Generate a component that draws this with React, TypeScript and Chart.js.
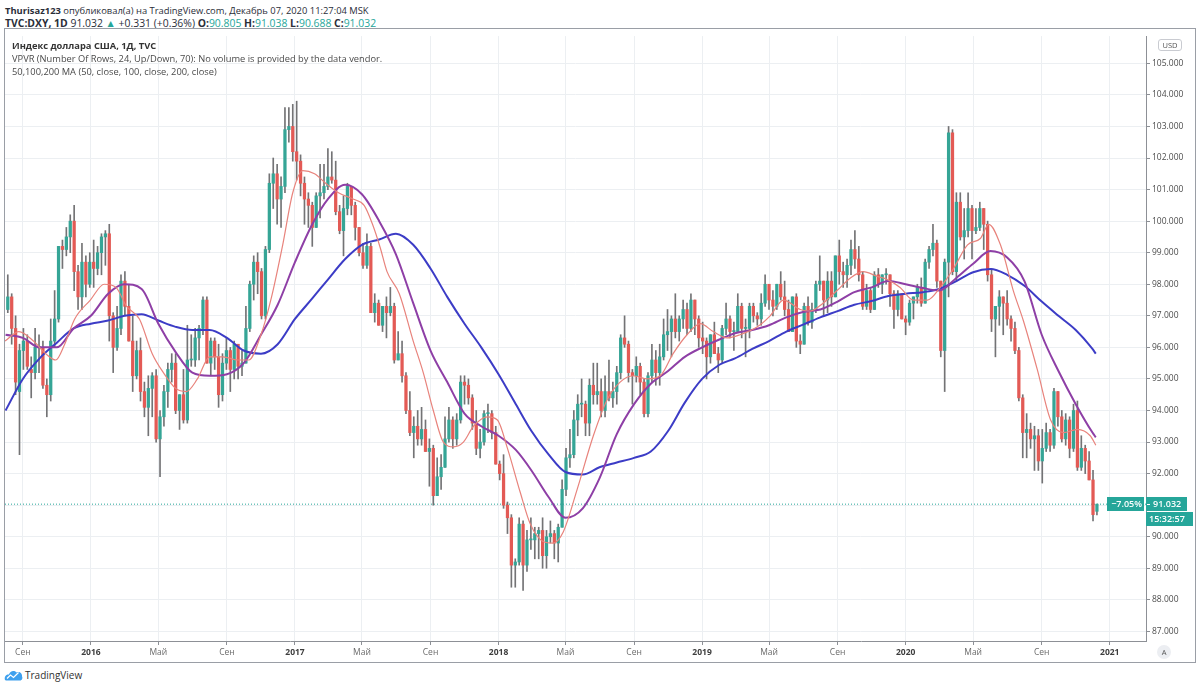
import React, { useEffect, useRef } from "react";
import { Chart, registerables } from "chart.js";

Chart.register(...registerables);

const toDay = (iso: string) =>
  (Date.parse(iso + "T00:00:00Z") - Date.UTC(2015, 0, 1)) / 86400000;

// Weekly candles [open, high, low, close]; first week starts Monday 2015-08-03
const FIRST_WEEK = "2015-08-03";

const ohlc2015 = [
  [97.2, 98.3, 97.1, 97.6], [97.6, 97.7, 96.1, 96.6], [96.6, 97.0, 94.5, 94.9], [94.6, 96.1, 92.6, 95.9],
  [95.9, 96.6, 95.3, 96.2], [96.2, 96.4, 95.3, 95.4], [95.3, 95.7, 94.4, 95.2], [95.2, 96.6, 95.0, 96.0],
  [96.0, 96.4, 95.2, 96.0], [96.0, 96.2, 94.7, 94.8], [94.8, 95.0, 93.8, 94.5], [94.5, 96.9, 94.3, 96.2],
  [96.2, 97.8, 96.0, 96.9], [96.9, 99.2, 96.8, 99.2], [99.2, 99.4, 98.5, 99.1], [99.1, 99.8, 98.9, 99.5],
  [99.5, 100.2, 99.0, 100.0], [100.0, 100.5, 97.8, 98.4], [98.4, 98.6, 97.2, 97.6], [97.6, 99.3, 97.2, 98.7],
  [98.7, 98.9, 97.6, 98.0], [98.0, 99.0, 97.9, 98.7],
];
const ohlc2016 = [
  [98.7, 99.4, 97.9, 98.5], [98.5, 99.2, 98.3, 99.0], [99.0, 99.6, 98.3, 99.5], [99.5, 99.7, 98.6, 99.6],
  [99.6, 99.9, 96.2, 97.0], [97.0, 97.1, 95.2, 96.0], [96.0, 97.3, 95.9, 96.6], [96.6, 98.3, 96.4, 98.1],
  [98.1, 98.4, 97.0, 97.3], [97.3, 98.0, 96.2, 96.2], [96.2, 97.0, 94.6, 95.1], [95.1, 96.2, 95.0, 95.9],
  [95.9, 96.3, 94.3, 94.6], [94.6, 94.9, 93.8, 94.1], [94.1, 95.1, 93.2, 94.7], [94.7, 95.2, 93.8, 95.1],
  [95.1, 95.3, 93.0, 93.1], [93.1, 94.0, 91.9, 93.8], [93.8, 94.8, 93.5, 94.6], [94.6, 95.5, 94.1, 95.3],
  [95.3, 95.8, 94.9, 95.5], [95.5, 95.8, 93.9, 94.0], [94.0, 94.5, 93.4, 94.5], [94.5, 95.3, 93.6, 93.7],
  [93.7, 96.7, 93.6, 95.6], [95.6, 96.4, 95.4, 95.6], [95.6, 96.6, 95.4, 96.3], [96.3, 96.7, 95.6, 96.6],
  [96.6, 97.6, 96.4, 97.5], [97.5, 97.6, 95.5, 95.5], [95.5, 96.3, 95.1, 96.2], [96.2, 96.3, 95.3, 95.7],
  [95.7, 96.1, 94.1, 94.5], [94.5, 95.8, 94.3, 95.5], [95.5, 96.3, 95.3, 95.9], [95.9, 96.0, 94.6, 95.3],
  [95.3, 96.2, 95.0, 96.1], [96.1, 96.1, 95.0, 95.4], [95.4, 95.9, 95.1, 95.5], [95.5, 97.3, 95.5, 96.6],
  [96.6, 98.1, 96.5, 98.0], [98.0, 98.9, 97.5, 98.7], [98.7, 99.0, 97.7, 98.4], [98.4, 98.5, 96.9, 97.0],
  [97.0, 99.2, 96.9, 99.1], [99.1, 101.5, 99.0, 101.2], [101.2, 102.0, 100.4, 101.5], [101.5, 101.8, 99.9, 100.7],
  [100.7, 101.4, 99.8, 101.1], [101.1, 103.6, 100.9, 102.9], [102.9, 103.6, 102.5, 103.0], [103.0, 103.7, 101.9, 102.2],
];
const ohlc2017 = [
  [102.2, 103.8, 101.3, 101.9], [101.9, 102.1, 100.8, 101.2], [101.2, 101.4, 99.9, 100.7], [100.7, 100.9, 99.8, 100.5],
  [100.5, 100.6, 99.2, 99.8], [99.8, 100.9, 99.8, 100.8], [100.8, 101.8, 100.1, 100.9], [100.9, 101.8, 100.7, 101.1],
  [101.1, 102.3, 101.0, 101.4], [101.4, 102.2, 101.2, 101.3], [101.3, 101.9, 100.2, 100.3], [100.3, 100.5, 99.6, 99.7],
  [99.7, 100.8, 98.9, 100.4], [100.4, 101.2, 100.2, 101.1], [101.1, 101.1, 100.2, 100.5], [100.5, 100.6, 99.4, 99.8],
  [99.8, 99.8, 98.9, 99.0], [99.0, 99.3, 98.5, 98.6], [98.6, 99.6, 98.5, 99.2], [99.2, 99.3, 97.1, 97.1],
  [97.1, 97.7, 96.8, 97.4], [97.4, 97.5, 96.7, 96.7], [96.7, 97.3, 96.5, 97.3], [97.3, 97.6, 96.3, 97.1],
  [97.1, 97.9, 97.0, 97.3], [97.3, 97.4, 95.5, 95.6], [95.6, 96.5, 95.6, 95.8], [95.8, 96.2, 94.9, 95.1],
  [95.1, 95.2, 93.9, 94.0], [94.0, 94.6, 93.2, 93.3], [93.3, 93.8, 92.5, 93.5], [93.5, 94.0, 92.9, 93.1],
  [93.1, 94.1, 92.9, 93.4], [93.4, 93.7, 92.7, 92.7], [92.7, 93.1, 91.6, 92.8], [92.8, 92.9, 91.0, 91.3],
  [91.3, 92.5, 91.3, 91.9], [91.9, 92.6, 91.5, 92.2], [92.2, 93.8, 92.2, 93.1], [93.1, 94.1, 93.0, 93.7],
  [93.7, 93.8, 92.8, 93.1], [93.1, 93.9, 92.9, 93.7], [93.7, 95.1, 93.6, 94.9], [94.9, 95.1, 94.2, 94.8],
  [94.8, 95.0, 94.2, 94.4], [94.4, 94.5, 93.4, 93.6], [93.6, 94.0, 92.6, 92.8], [92.8, 93.4, 92.5, 93.0],
  [93.0, 94.0, 92.9, 93.9], [93.9, 94.2, 93.3, 93.9], [93.9, 94.0, 93.1, 93.3], [93.3, 93.5, 92.3, 92.3],
];
const ohlc2018 = [
  [92.3, 92.4, 91.8, 92.0], [92.0, 92.6, 90.9, 91.0], [91.0, 91.1, 90.1, 90.6], [90.6, 90.7, 88.4, 89.1],
  [89.1, 89.3, 88.4, 89.2], [89.2, 90.6, 89.1, 90.4], [90.4, 90.5, 88.3, 89.1], [89.1, 90.2, 88.9, 89.9],
  [89.9, 90.6, 89.6, 89.9], [89.9, 90.3, 89.3, 90.1], [90.1, 90.3, 89.3, 90.2], [90.2, 90.6, 89.0, 89.4],
  [89.4, 90.2, 89.0, 90.0], [90.0, 90.5, 89.8, 90.1], [90.1, 90.2, 89.3, 89.8], [89.8, 90.4, 89.2, 90.3],
  [90.3, 91.8, 90.3, 91.5], [91.5, 92.8, 91.3, 92.5], [92.5, 93.4, 92.2, 92.6], [92.6, 94.0, 92.5, 93.7],
  [93.7, 94.5, 93.2, 94.2], [94.2, 95.0, 93.8, 94.2], [94.2, 94.3, 93.2, 93.6], [93.6, 95.0, 93.2, 94.8],
  [94.8, 95.5, 94.2, 94.5], [94.5, 95.5, 94.2, 94.6], [94.6, 95.0, 93.8, 94.0], [94.0, 95.1, 93.8, 94.6],
  [94.6, 95.6, 94.3, 94.4], [94.4, 94.9, 94.1, 94.6], [94.6, 95.4, 94.2, 95.2], [95.2, 96.4, 95.0, 96.3],
  [96.3, 97.0, 96.0, 96.1], [96.1, 96.2, 94.9, 95.2], [95.2, 95.3, 94.2, 95.1], [95.1, 95.7, 94.9, 95.4],
  [95.4, 95.5, 94.5, 94.9], [94.9, 95.0, 93.8, 93.9], [93.9, 95.2, 93.8, 95.1], [95.1, 96.1, 94.9, 95.6],
  [95.6, 95.9, 94.8, 95.2], [95.2, 96.1, 94.8, 95.7], [95.7, 96.9, 95.6, 96.4], [96.4, 97.2, 95.9, 96.5],
  [96.5, 97.0, 95.7, 96.9], [96.9, 97.7, 96.3, 96.5], [96.5, 97.0, 96.2, 96.9], [96.9, 97.5, 96.6, 97.2],
  [97.2, 97.4, 96.4, 96.6], [96.6, 97.7, 96.5, 97.5], [97.5, 97.5, 96.4, 96.9], [96.9, 97.0, 96.0, 96.3],
  [96.3, 96.8, 95.8, 96.2],
];
const ohlc2019 = [
  [96.2, 96.3, 95.0, 95.7], [95.7, 96.4, 95.5, 96.4], [96.4, 96.8, 95.8, 95.8], [95.8, 96.0, 95.2, 95.6],
  [95.6, 96.7, 95.5, 96.6], [96.6, 97.4, 96.4, 96.9], [96.9, 97.0, 96.3, 96.5], [96.5, 96.8, 95.9, 96.5],
  [96.5, 97.7, 96.5, 97.3], [97.3, 97.4, 96.3, 96.6], [96.6, 96.9, 95.7, 96.6], [96.6, 97.4, 96.3, 97.3],
  [97.3, 97.4, 96.8, 97.0], [97.0, 97.1, 96.7, 96.9], [96.9, 97.7, 96.7, 97.4], [97.4, 98.3, 97.3, 98.0],
  [98.0, 98.0, 97.2, 97.5], [97.5, 97.8, 97.0, 97.3], [97.3, 98.0, 97.2, 98.0], [98.0, 98.4, 97.5, 97.6],
  [97.6, 98.1, 97.0, 97.2], [97.2, 97.5, 96.5, 96.5], [96.5, 97.6, 96.5, 97.6], [97.6, 97.7, 96.0, 96.2],
  [96.2, 96.4, 95.8, 96.1], [96.1, 97.4, 96.1, 97.3], [97.3, 97.6, 96.7, 96.8], [96.8, 97.4, 96.6, 97.2],
  [97.2, 98.1, 97.1, 98.0], [98.0, 98.9, 97.8, 98.1], [98.1, 98.1, 97.0, 97.5], [97.5, 98.4, 97.1, 98.1],
  [98.1, 98.4, 97.3, 97.6], [97.6, 98.9, 97.6, 98.9], [98.9, 99.4, 98.0, 98.4], [98.4, 98.7, 97.9, 98.3],
  [98.3, 98.8, 97.9, 98.6], [98.6, 99.4, 98.3, 99.1], [99.1, 99.7, 98.5, 98.8], [98.8, 99.2, 98.1, 98.3],
  [98.3, 98.4, 97.2, 97.3], [97.3, 98.0, 97.2, 97.8], [97.8, 97.9, 97.1, 97.2], [97.2, 98.4, 97.2, 98.3],
  [98.3, 98.5, 97.9, 98.0], [98.0, 98.3, 97.7, 98.3], [98.3, 98.5, 98.0, 98.3], [98.3, 98.3, 97.3, 97.7],
  [97.7, 97.8, 96.6, 97.2], [97.2, 97.8, 97.0, 97.7], [97.7, 97.7, 96.9, 96.9], [96.9, 97.0, 96.4, 96.8],
];
const ohlc2020 = [
  [96.8, 97.5, 96.7, 97.4], [97.4, 97.6, 96.9, 97.6], [97.6, 98.0, 97.4, 97.9], [97.9, 98.2, 97.3, 97.4],
  [97.4, 98.8, 97.4, 98.7], [98.7, 99.2, 98.5, 99.1], [99.1, 99.9, 98.9, 99.3], [99.3, 99.4, 97.9, 98.1],
  [98.1, 98.1, 95.7, 95.9], [95.9, 98.8, 94.6, 98.7], [98.7, 103.0, 97.6, 102.8], [102.8, 102.9, 98.3, 98.4],
  [98.4, 100.9, 98.1, 100.6], [100.6, 100.9, 99.4, 99.5], [99.5, 100.4, 98.8, 99.7], [99.7, 100.9, 99.5, 100.4],
  [100.4, 100.5, 98.8, 99.7], [99.7, 100.4, 99.6, 99.8], [99.8, 100.6, 99.7, 100.4], [100.4, 100.4, 99.1, 99.9],
  [99.9, 100.0, 98.1, 98.3], [98.3, 98.5, 96.5, 96.9], [96.9, 97.0, 95.7, 97.3], [97.3, 97.8, 96.7, 97.6],
  [97.6, 97.6, 96.4, 97.4], [97.4, 97.8, 96.7, 96.9], [96.9, 97.0, 96.2, 96.6], [96.6, 96.8, 95.8, 95.9],
  [95.9, 96.0, 94.3, 94.4], [94.4, 94.5, 92.5, 93.3], [93.3, 93.9, 92.5, 93.4], [93.4, 93.6, 92.8, 93.1],
  [93.1, 93.5, 92.1, 93.2], [93.2, 93.4, 92.1, 92.4], [92.4, 93.4, 91.7, 92.8], [92.8, 93.6, 92.7, 93.3],
  [93.3, 93.4, 92.7, 92.9], [92.9, 94.7, 92.8, 94.6], [94.6, 94.6, 93.5, 93.8], [93.8, 94.0, 93.0, 93.1],
  [93.1, 93.9, 92.9, 93.7], [93.7, 93.8, 92.5, 92.8], [92.8, 94.2, 92.7, 94.0], [94.0, 94.3, 92.1, 92.2],
  [92.2, 93.2, 92.1, 92.8], [92.8, 92.9, 92.0, 92.4], [92.4, 92.7, 91.8, 91.8], [91.8, 92.1, 90.5, 90.7],
  [90.805, 91.038, 90.688, 91.032],
];

// Moving averages [date, value]
const ma50: [string, number][] = [
  ["2015-07-31", 96.2], ["2015-08-25", 96.5], ["2015-09-20", 96.2], ["2015-10-12", 95.8], ["2015-10-30", 95.6],
  ["2015-11-15", 96.1], ["2015-12-03", 96.9], ["2015-12-31", 97.5], ["2016-01-25", 98.0], ["2016-02-15", 97.9],
  ["2016-03-05", 97.3], ["2016-03-28", 96.9], ["2016-04-20", 95.8], ["2016-05-10", 95.2], ["2016-06-01", 94.7],
  ["2016-06-20", 94.6], ["2016-07-10", 95.0], ["2016-08-01", 95.7], ["2016-08-25", 95.7], ["2016-09-20", 95.6],
  ["2016-10-10", 95.6], ["2016-11-01", 96.4], ["2016-11-20", 97.6], ["2016-12-10", 99.25], ["2016-12-28", 100.9],
  ["2017-01-15", 101.6], ["2017-02-05", 101.5], ["2017-02-25", 101.2], ["2017-03-20", 100.9], ["2017-04-15", 100.7],
  ["2017-05-05", 100.5], ["2017-05-20", 99.9], ["2017-06-03", 99.15], ["2017-06-15", 98.4], ["2017-07-07", 97.7],
  ["2017-08-01", 96.2], ["2017-08-19", 95.2], ["2017-09-06", 94.0], ["2017-09-24", 93.0], ["2017-10-12", 92.85],
  ["2017-10-30", 93.0], ["2017-11-17", 93.5], ["2017-12-12", 93.8], ["2017-12-30", 93.7], ["2018-01-17", 92.8],
  ["2018-02-09", 91.4], ["2018-02-27", 90.4], ["2018-03-22", 89.85], ["2018-04-09", 89.8], ["2018-04-27", 90.15],
  ["2018-05-22", 91.5], ["2018-06-20", 93.2], ["2018-07-15", 94.35], ["2018-08-07", 94.9], ["2018-08-31", 95.1],
  ["2018-09-25", 95.0], ["2018-10-18", 95.1], ["2018-11-10", 95.8], ["2018-12-05", 96.4], ["2018-12-29", 96.75],
  ["2019-01-21", 96.5], ["2019-02-15", 96.3], ["2019-03-10", 96.4], ["2019-04-10", 96.65], ["2019-05-03", 97.0],
  ["2019-05-27", 97.5], ["2019-06-26", 97.2], ["2019-07-14", 97.15], ["2019-08-06", 97.4], ["2019-08-31", 97.8],
  ["2019-09-24", 98.2], ["2019-10-17", 98.4], ["2019-11-11", 98.25], ["2019-11-29", 98.15], ["2019-12-22", 97.9],
  ["2020-01-15", 97.5], ["2020-02-09", 97.5], ["2020-03-03", 97.9], ["2020-03-27", 98.5], ["2020-04-21", 99.25],
  ["2020-05-14", 99.45], ["2020-05-29", 99.9], ["2020-06-19", 99.25], ["2020-07-12", 97.8], ["2020-07-30", 96.85],
  ["2020-08-24", 95.3], ["2020-09-17", 93.7], ["2020-10-10", 93.3], ["2020-11-04", 93.4], ["2020-11-27", 93.2],
  ["2020-12-07", 92.9],
];
const ma100: [string, number][] = [
  ["2015-08-01", 96.4], ["2015-09-01", 96.3], ["2015-10-01", 96.0], ["2015-11-01", 96.0], ["2015-12-01", 96.6],
  ["2016-01-01", 97.0], ["2016-02-01", 97.7], ["2016-03-01", 98.0], ["2016-04-01", 97.85], ["2016-05-01", 96.75],
  ["2016-06-01", 95.85], ["2016-07-01", 95.2], ["2016-08-01", 95.1], ["2016-09-01", 95.15], ["2016-10-01", 95.5],
  ["2016-11-01", 96.4], ["2016-12-01", 97.35], ["2017-01-01", 98.7], ["2017-02-01", 99.9], ["2017-03-01", 100.7],
  ["2017-04-01", 101.15], ["2017-05-01", 100.85], ["2017-06-01", 100.0], ["2017-07-01", 98.95], ["2017-08-01", 97.4],
  ["2017-09-01", 95.9], ["2017-10-01", 94.9], ["2017-11-01", 93.9], ["2017-12-01", 93.5], ["2018-01-01", 93.2],
  ["2018-02-01", 92.75], ["2018-03-01", 92.1], ["2018-04-01", 91.25], ["2018-05-01", 90.6], ["2018-06-01", 90.9],
  ["2018-07-01", 91.85], ["2018-08-01", 93.25], ["2018-09-01", 94.2], ["2018-10-01", 94.85], ["2018-11-01", 95.25],
  ["2018-12-01", 95.7], ["2019-01-01", 96.0], ["2019-02-01", 96.25], ["2019-03-01", 96.45], ["2019-04-01", 96.55],
  ["2019-05-01", 96.7], ["2019-06-01", 96.95], ["2019-07-01", 97.12], ["2019-08-01", 97.2], ["2019-09-01", 97.45],
  ["2019-10-01", 97.75], ["2019-11-01", 97.9], ["2019-12-01", 98.1], ["2020-01-01", 98.0], ["2020-02-01", 97.88],
  ["2020-03-01", 97.8], ["2020-04-01", 98.2], ["2020-05-01", 98.65], ["2020-06-01", 99.05], ["2020-07-01", 98.85],
  ["2020-08-01", 98.1], ["2020-09-01", 96.4], ["2020-10-01", 95.25], ["2020-11-01", 94.2], ["2020-12-01", 93.3],
  ["2020-12-07", 93.15],
];
const ma200: [string, number][] = [
  ["2015-08-01", 94.0], ["2015-09-01", 95.0], ["2015-10-01", 95.65], ["2015-11-01", 96.15], ["2015-12-01", 96.6],
  ["2016-01-01", 96.75], ["2016-02-01", 96.85], ["2016-03-01", 97.0], ["2016-04-01", 97.05], ["2016-05-01", 96.85],
  ["2016-06-01", 96.65], ["2016-07-01", 96.55], ["2016-08-01", 96.55], ["2016-09-01", 96.3], ["2016-10-01", 95.9],
  ["2016-11-01", 95.8], ["2016-12-01", 96.1], ["2017-01-01", 96.9], ["2017-02-01", 97.55], ["2017-03-01", 98.15],
  ["2017-04-01", 98.8], ["2017-05-01", 99.25], ["2017-06-01", 99.42], ["2017-07-01", 99.6], ["2017-08-01", 99.25],
  ["2017-09-01", 98.5], ["2017-10-01", 97.6], ["2017-11-01", 96.75], ["2017-12-01", 96.0], ["2018-01-01", 95.15],
  ["2018-02-01", 94.2], ["2018-03-01", 93.35], ["2018-04-01", 92.6], ["2018-05-01", 92.05], ["2018-06-01", 91.97],
  ["2018-07-01", 92.2], ["2018-08-01", 92.35], ["2018-09-01", 92.5], ["2018-10-01", 92.7], ["2018-11-01", 93.35],
  ["2018-12-01", 94.25], ["2019-01-01", 95.0], ["2019-02-01", 95.45], ["2019-03-01", 95.65], ["2019-04-01", 95.95],
  ["2019-05-01", 96.2], ["2019-06-01", 96.5], ["2019-07-01", 96.72], ["2019-08-01", 96.95], ["2019-09-01", 97.15],
  ["2019-10-01", 97.35], ["2019-11-01", 97.47], ["2019-12-01", 97.63], ["2020-01-01", 97.7], ["2020-02-01", 97.75],
  ["2020-03-01", 97.85], ["2020-04-01", 98.1], ["2020-05-01", 98.38], ["2020-06-01", 98.48], ["2020-07-01", 98.3],
  ["2020-08-01", 97.95], ["2020-09-01", 97.45], ["2020-10-01", 97.0], ["2020-11-01", 96.55], ["2020-12-01", 95.95],
  ["2020-12-07", 95.8],
];

const yTicks = [87, 88, 89, 90, 91, 92, 93, 94, 95, 96, 97, 98, 99, 100, 101, 102, 103, 104, 105];
const xTickDates = [
  "2015-09-01", "2016-01-01", "2016-05-01", "2016-09-01", "2017-01-01", "2017-05-01", "2017-09-01",
  "2018-01-01", "2018-05-01", "2018-09-01", "2019-01-01", "2019-05-01", "2019-09-01", "2020-01-01",
  "2020-05-01", "2020-09-01", "2021-01-01",
];
const xTickLabels = [
  "Сен", "2016", "Май", "Сен", "2017", "Май", "Сен", "2018", "Май", "Сен", "2019", "Май", "Сен", "2020",
  "Май", "Сен", "2021",
];

const VIEW_START = "2015-07-31";
const VIEW_END = "2021-03-07";
const Y_MIN = 86.696;
const Y_MAX = 105.863;

const lastClose = 91.032;
const lastCloseLabel = "91.032";
const changeLabel = "−7.05%";
const countdownLabel = "15:32:57";

const FONT = '"Open Sans", "Liberation Sans", Arial, sans-serif';
const TEAL = "#26a69a";
const UP = "#35a596";
const DOWN = "#e35a55";
const WICK = "#737375";
const GRID = "#eceff2";
const AXIS = "#8d9096";

const priceTag = {
  id: "priceTag",
  afterDraw(chart: any) {
    const { ctx, chartArea, scales } = chart;
    const y = Math.round(scales.y.getPixelForValue(lastClose));
    const r = chartArea.right;
    ctx.save();
    ctx.fillStyle = TEAL;
    ctx.fillRect(r, y - 7, 41, 14);
    ctx.fillRect(r, y + 8, 47, 14);
    ctx.fillRect(r - 39, y - 7, 37, 14);
    ctx.fillStyle = "#fff";
    ctx.fillRect(r + 1, y, 3, 1);
    ctx.font = `600 9px ${FONT}`;
    ctx.textBaseline = "middle";
    ctx.textAlign = "left";
    ctx.fillText(lastCloseLabel, r + 7, y + 0.5);
    ctx.fillText(countdownLabel, r + 3, y + 15.5);
    ctx.textAlign = "right";
    ctx.fillText(changeLabel, r - 4, y + 0.5);
    ctx.restore();
  },
};

export default function App() {
  const ref = useRef<HTMLCanvasElement>(null);

  useEffect(() => {
    const candles = [...ohlc2015, ...ohlc2016, ...ohlc2017, ...ohlc2018, ...ohlc2019, ...ohlc2020];
    const x0 = toDay(FIRST_WEEK);
    const xs = candles.map((_, i) => x0 + 7 * i + 2);
    const colors = candles.map((c) => (c[3] >= c[0] ? UP : DOWN));
    const toPts = (rows: [string, number][]) => rows.map(([d, v]) => ({ x: toDay(d), y: v }));
    const xMin = toDay(VIEW_START);
    const xMax = toDay(VIEW_END);

    const lineBase = { pointRadius: 0, fill: false, cubicInterpolationMode: "monotone" as const };

    const chart = new Chart(ref.current!, {
      type: "bar",
      data: {
        datasets: [
          { type: "line", label: "MA50", data: toPts(ma50), borderColor: "#e8837c", borderWidth: 1.2, order: 0, ...lineBase } as any,
          { type: "line", label: "MA100", data: toPts(ma100), borderColor: "#8e3fa6", borderWidth: 2, order: 0, ...lineBase } as any,
          { type: "line", label: "MA200", data: toPts(ma200), borderColor: "#3c3cc6", borderWidth: 2, order: 0, ...lineBase } as any,
          {
            type: "line", label: "last", data: [{ x: xMin, y: lastClose }, { x: xMax, y: lastClose }],
            borderColor: TEAL, borderWidth: 1, borderDash: [1, 2], pointRadius: 0, order: 3,
          } as any,
          {
            type: "bar", label: "wick", data: candles.map((c, i) => ({ x: xs[i], y: [c[2], c[1]] })),
            backgroundColor: WICK, barThickness: 1, grouped: false, order: 2, borderWidth: 0,
          } as any,
          {
            type: "bar", label: "body", data: candles.map((c, i) => ({ x: xs[i], y: [c[0], c[3]] })),
            backgroundColor: colors, barThickness: 2.6, minBarLength: 1, grouped: false, order: 1, borderWidth: 0,
          } as any,
        ],
      },
      options: {
        responsive: false,
        animation: false,
        devicePixelRatio: 1,
        events: [],
        layout: { padding: 0 },
        plugins: { legend: { display: false }, tooltip: { enabled: false } },
        scales: {
          x: {
            type: "linear",
            min: xMin,
            max: xMax,
            offset: false,
            afterBuildTicks: (axis: any) => {
              axis.ticks = xTickDates.map((d) => ({ value: toDay(d) }));
            },
            afterFit: (s: any) => {
              s.height = 21;
            },
            grid: { color: GRID, tickColor: AXIS, tickLength: 4, offset: false },
            border: { color: AXIS },
            ticks: {
              autoSkip: false,
              maxRotation: 0,
              padding: 2,
              color: (ctx: any) => (/^\d{4}$/.test(xTickLabels[ctx.index] || "") ? "#3d3d3d" : "#6a6a6a"),
              font: (ctx: any) => ({
                family: FONT,
                size: 8.5,
                weight: /^\d{4}$/.test(xTickLabels[ctx.index] || "") ? "bold" : "normal",
              }),
              callback: (_v: any, i: number) => xTickLabels[i],
            },
          } as any,
          y: {
            position: "right",
            min: Y_MIN,
            max: Y_MAX,
            afterBuildTicks: (axis: any) => {
              axis.ticks = yTicks.map((v) => ({ value: v }));
            },
            afterFit: (s: any) => {
              s.width = 49;
            },
            grid: { color: GRID, tickColor: AXIS, tickLength: 4 },
            border: { color: AXIS },
            ticks: {
              padding: 2,
              color: "#4d4d4d",
              font: { family: FONT, size: 8.5 },
              callback: (v: any) => Number(v).toFixed(3),
            },
          } as any,
        },
      },
      plugins: [priceTag],
    });
    return () => chart.destroy();
  }, []);

  const teal = { color: TEAL };
  return (
    <div
      style={{
        position: "fixed", left: 0, top: 0, width: 1200, height: 691, background: "#fff",
        overflow: "hidden", fontFamily: FONT, color: "#2a2e39",
      }}
    >
      <div style={{ position: "absolute", left: 5, top: 4, fontSize: 9.4, whiteSpace: "nowrap" }}>
        <b>Thurisaz123</b> опубликовал(а) на TradingView.com, Декабрь 07, 2020 11:27:04 MSK
      </div>
      <div style={{ position: "absolute", left: 5, top: 16, fontSize: 10.4, whiteSpace: "nowrap" }}>
        <b>TVC:DXY, 1D</b> 91.032 <span style={teal}>▲</span> +0.331 (+0.36%) <b>O:</b>
        <span style={teal}>90.805</span> <b>H:</b><span style={teal}>91.038</span> <b>L:</b>
        <span style={teal}>90.688</span> <b>C:</b><span style={teal}>91.032</span>
      </div>
      <div
        style={{
          position: "absolute", left: 4, top: 28, width: 1192, height: 635,
          border: "1px solid #9a9ea6", boxSizing: "border-box",
        }}
      />
      <canvas
        ref={ref}
        width={1190}
        height={633}
        style={{ position: "absolute", left: 5, top: 29, width: 1190, height: 633 }}
      />
      <div style={{ position: "absolute", left: 12, top: 39, fontSize: 9.3, lineHeight: "13px", color: "#4a4a4a", whiteSpace: "nowrap" }}>
        <div style={{ fontWeight: "bold", color: "#333" }}>Индекс доллара США, 1Д, TVC</div>
        <div>VPVR (Number Of Rows, 24, Up/Down, 70): No volume is provided by the data vendor.</div>
        <div>50,100,200 MA (50, close, 100, close, 200, close)</div>
      </div>
      <div
        style={{
          position: "absolute", left: 1158, top: 39, width: 24, height: 12, border: "1px solid #c9cbd1",
          borderRadius: 3, boxSizing: "border-box", fontSize: 7.5, lineHeight: "10px", textAlign: "center",
          color: "#555", background: "#fff",
        }}
      >
        USD
      </div>
      <div
        style={{
          position: "absolute", left: 1157, top: 645, width: 14, height: 14, borderRadius: 7,
          background: "#eceef2", fontSize: 7.5, lineHeight: "14px", textAlign: "center", color: "#555",
        }}
      >
        A
      </div>
      <div style={{ position: "absolute", left: 4, top: 668, display: "flex", alignItems: "center", gap: 2 }}>
        <svg width="19" height="14" viewBox="0 0 38 28">
          <path d="M2 24 C0 18 4 12 10 13 C12 6 20 4 25 9 C30 6 37 10 36 17 C38 20 36 25 32 25 L4 25 Z" fill="#3ea0ee" />
          <polyline points="6,21 13,14 19,19 29,9" fill="none" stroke="#fff" strokeWidth="2.5" />
        </svg>
        <span style={{ fontSize: 10, color: "#333" }}>TradingView</span>
      </div>
    </div>
  );
}
